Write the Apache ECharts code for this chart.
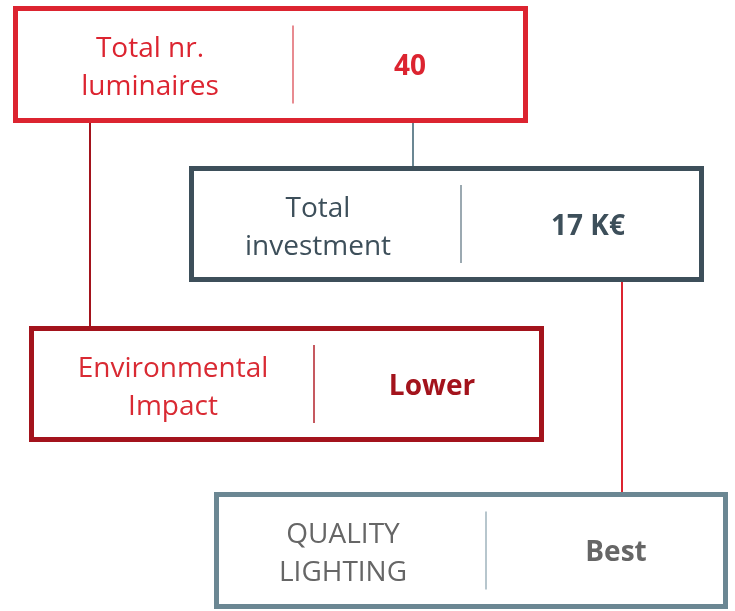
<!DOCTYPE html>
<html>
<head>
<meta charset="utf-8">
<script src="https://cdn.jsdelivr.net/npm/echarts@6/dist/echarts.min.js"></script>
<style>
html,body{margin:0;padding:0;background:#fff;}
#chart{width:735px;height:611px;}
</style>
</head>
<body>
<div id="chart"></div>
<script>
// ---- data ----
var labels = [['Total nr.', 'luminaires'], ['Total', 'investment'], ['Environmental', 'Impact'], ['QUALITY', 'LIGHTING']];
var values = ['40', '17 K€', 'Lower', 'Best'];
// connections: [fromBox, toBox]
var links = [[0, 2], [0, 1], [1, 3]];

// ---- layout / style (not data) ----
var boxes = [
  {x: 15.5, y: 8.5, w: 510, h: 112, divX: 293, labelX: 150, valueX: 410},
  {x: 191.5, y: 168.5, w: 510, h: 111, divX: 461, labelX: 318, valueX: 588},
  {x: 31.5, y: 328.5, w: 510, h: 111, divX: 314, labelX: 173, valueX: 432},
  {x: 216.5, y: 494.5, w: 509, h: 112, divX: 486, labelX: 343, valueX: 616}
];
var styles = [
  {border: '#dc2430', div: '#e0646c', label: '#dc2430', value: '#dc2430'},
  {border: '#3d4f5a', div: '#7a8d97', label: '#3d4f5a', value: '#3d4f5a'},
  {border: '#a3131c', div: '#b3222b', label: '#d92a33', value: '#a3131c'},
  {border: '#6b8793', div: '#9fb3bc', label: '#666666', value: '#666666'}
];
var linkStyle = [
  {x: 90, color: '#a3131c'},
  {x: 413, color: '#6b8793'},
  {x: 622, color: '#dc2430'}
];
var FONT = '"Open Sans", Lato, sans-serif';

var chart = echarts.init(document.getElementById('chart'));
chart.setOption({
  animation: false,
  grid: {left: 0, right: 0, top: 0, bottom: 0},
  xAxis: {type: 'value', min: 0, max: 735, show: false},
  yAxis: {type: 'value', min: 0, max: 611, inverse: true, show: false},
  series: [
    {
      type: 'custom',
      coordinateSystem: 'cartesian2d',
      data: links.map(function (l, i) { return [i]; }),
      renderItem: function (params, api) {
        var i = params.dataIndex;
        var l = links[i];
        var a = boxes[l[0]], b = boxes[l[1]];
        var x = linkStyle[i].x;
        var p1 = api.coord([x, a.y + a.h + 2.5]);
        var p2 = api.coord([x, b.y - 2.5]);
        return {
          type: 'line',
          shape: {x1: p1[0], y1: p1[1], x2: p2[0], y2: p2[1]},
          style: {stroke: linkStyle[i].color, lineWidth: 2}
        };
      },
      z: 1
    },
    {
      type: 'custom',
      coordinateSystem: 'cartesian2d',
      data: labels.map(function (l, i) { return [i]; }),
      renderItem: function (params, api) {
        var i = params.dataIndex;
        var b = boxes[i], s = styles[i];
        var tl = api.coord([b.x, b.y]);
        var br = api.coord([b.x + b.w, b.y + b.h]);
        var cy = (tl[1] + br[1]) / 2;
        var d = api.coord([b.divX, b.y])[0];
        var lx = api.coord([b.labelX, b.y])[0];
        var vx = api.coord([b.valueX, b.y])[0];
        return {
          type: 'group',
          children: [
            {type: 'rect', shape: {x: tl[0], y: tl[1], width: br[0] - tl[0], height: br[1] - tl[1]},
             style: {fill: '#fff', stroke: s.border, lineWidth: 5}},
            {type: 'line', shape: {x1: d, y1: cy - 39, x2: d, y2: cy + 39},
             style: {stroke: s.div, lineWidth: 1.5}},
            {type: 'text', x: lx, y: cy + 4, style: {
              text: labels[i].join('\n'), fill: s.label, font: '400 28px ' + FONT,
              lineHeight: 38, align: 'center', verticalAlign: 'middle'}},
            {type: 'text', x: vx, y: cy + 3, style: {
              text: values[i], fill: s.value, font: '700 28px ' + FONT,
              align: 'center', verticalAlign: 'middle'}}
          ]
        };
      },
      z: 2
    }
  ]
});
</script>
</body>
</html>
